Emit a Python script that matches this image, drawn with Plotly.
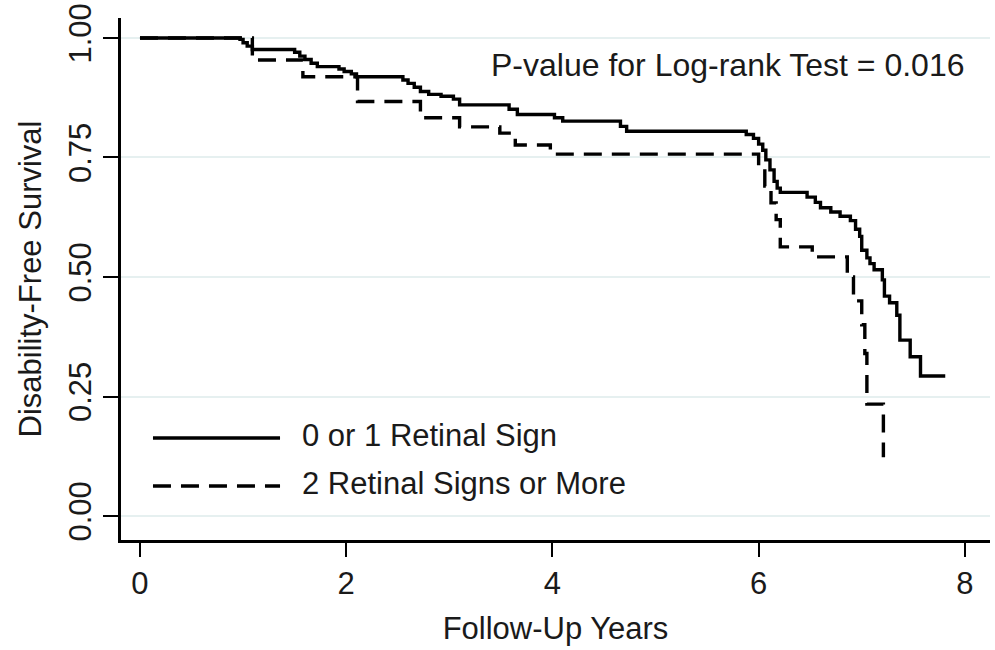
import plotly.graph_objects as go

# Kaplan-Meier estimates
low_t = [0, 0.97, 1.00, 1.04, 1.09, 1.50, 1.55, 1.60, 1.66, 1.72, 1.93, 1.98, 2.05, 2.10,
         2.55, 2.60, 2.66, 2.72, 2.80, 2.92, 3.04, 3.10, 3.58, 3.66, 4.02, 4.10, 4.66, 4.72,
         5.88, 5.95, 6.00, 6.04, 6.07, 6.11, 6.15, 6.18, 6.21, 6.47, 6.55, 6.60, 6.70, 6.79,
         6.89, 6.94, 6.98, 7.00, 7.05, 7.08, 7.12, 7.20, 7.22, 7.27, 7.34, 7.37, 7.47, 7.57, 7.81]
low_s = [1.0, 0.997, 0.990, 0.983, 0.976, 0.970, 0.962, 0.955, 0.947, 0.940, 0.935, 0.930, 0.925, 0.919,
         0.912, 0.905, 0.897, 0.888, 0.882, 0.878, 0.872, 0.860, 0.851, 0.840, 0.833, 0.826, 0.815, 0.805,
         0.798, 0.790, 0.778, 0.765, 0.745, 0.724, 0.700, 0.686, 0.677, 0.667, 0.656, 0.645, 0.636, 0.627,
         0.618, 0.600, 0.585, 0.556, 0.540, 0.528, 0.515, 0.494, 0.460, 0.446, 0.420, 0.368, 0.333, 0.293, 0.293]

high_t = [0, 1.09, 1.58, 2.11, 2.72, 3.10, 3.49, 3.64, 3.98, 6.00, 6.06, 6.12, 6.17, 6.21,
          6.52, 6.86, 6.92, 7.00, 7.03, 7.05, 7.21]
high_s = [1.0, 0.954, 0.919, 0.867, 0.833, 0.814, 0.801, 0.776, 0.757, 0.730, 0.690, 0.655, 0.620, 0.563,
          0.542, 0.500, 0.450, 0.400, 0.340, 0.234, 0.123]

series_names = ["0 or 1 Retinal Sign", "2 Retinal Signs or More"]
x_ticks = [0, 2, 4, 6, 8]
y_ticks = [0.0, 0.25, 0.5, 0.75, 1.0]
y_tick_labels = ["0.00", "0.25", "0.50", "0.75", "1.00"]
p_text = "P-value for Log-rank Test = 0.016"

FONT = "Liberation Sans, Arial, sans-serif"
TXT = "#1a1a1a"
LW = 3.4

fig = go.Figure()
fig.add_trace(go.Scatter(x=low_t, y=low_s, mode="lines", line_shape="hv",
                         name=series_names[0], line=dict(color="black", width=LW)))
fig.add_trace(go.Scatter(x=high_t, y=high_s, mode="lines", line_shape="hv",
                         name=series_names[1], line=dict(color="black", width=LW, dash="18px,10px")))

# custom legend (long line samples as in the reference)
leg_rows = [(0.1954, "solid"), (0.1034, "18px,10px")]
for (yy, dash), name in zip(leg_rows, series_names):
    fig.add_shape(type="line", xref="paper", yref="paper", x0=0.0368, x1=0.183, y0=yy, y1=yy,
                  line=dict(color="black", width=LW, dash=dash))
    fig.add_annotation(xref="paper", yref="paper", x=0.206, y=yy + 0.004, text=name, showarrow=False,
                       xanchor="left", yanchor="middle", font=dict(family=FONT, size=31, color=TXT))

fig.add_annotation(xref="paper", yref="paper", x=0.698, y=0.91, text=p_text, showarrow=False,
                   xanchor="center", yanchor="middle", font=dict(family=FONT, size=32, color=TXT))

fig.update_layout(
    width=995, height=650,
    margin=dict(l=121, r=5, t=18, b=110),
    paper_bgcolor="white", plot_bgcolor="white",
    showlegend=False,
    font=dict(family=FONT, size=31, color=TXT),
    xaxis=dict(range=[-0.184, 8.244], tickvals=x_ticks, ticks="outside", ticklen=14, tickwidth=2,
               tickcolor="black", showline=True, linecolor="black", linewidth=2.5,
               showgrid=False, zeroline=False, automargin=False,
               title=dict(text="Follow-Up Years", standoff=18, font=dict(size=31)),
               tickfont=dict(size=31)),
    yaxis=dict(range=[-0.0502, 1.0418], tickvals=y_ticks, ticktext=y_tick_labels, tickangle=-90,
               ticks="outside", ticklen=15, tickwidth=2, tickcolor="black",
               showline=True, linecolor="black", linewidth=2.5, automargin=False,
               showgrid=True, gridcolor="#e6f0f0", gridwidth=2, zeroline=False,
               title=dict(text="Disability-Free Survival", standoff=12, font=dict(size=31)),
               tickfont=dict(size=31)),
)

fig.write_html("out.html", config={"displayModeBar": False},
               post_script="document.body.style.margin='0';document.body.style.overflow='hidden';")
